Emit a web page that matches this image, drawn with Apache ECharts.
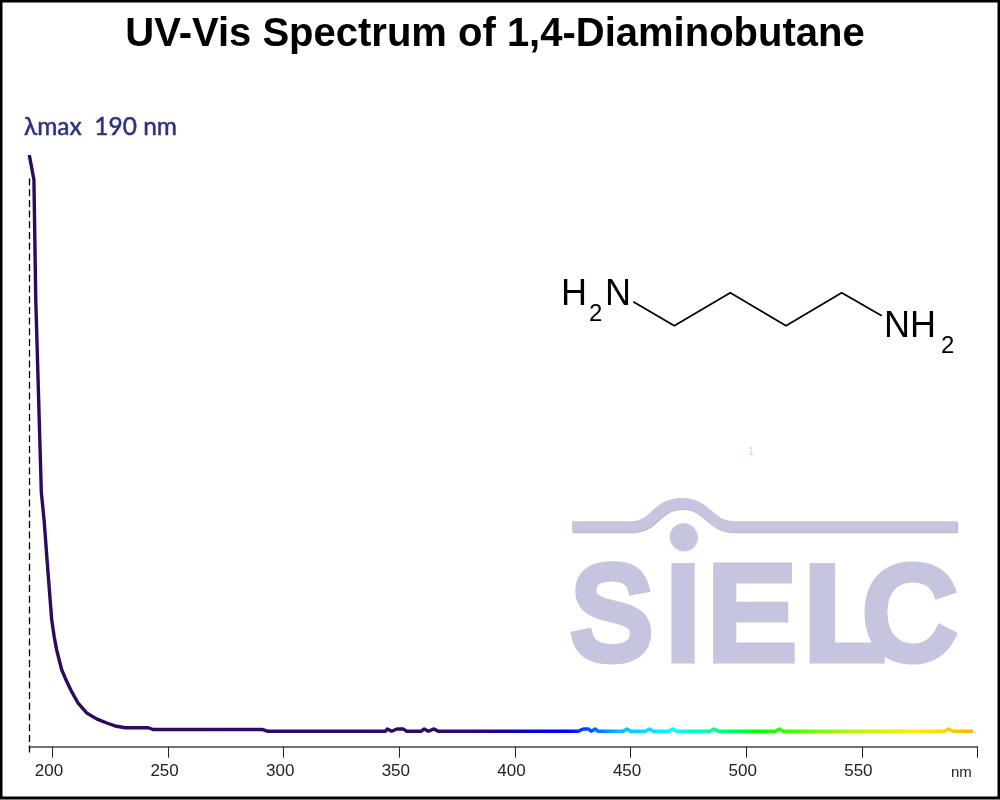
<!DOCTYPE html>
<html>
<head>
<meta charset="utf-8">
<title>UV-Vis Spectrum of 1,4-Diaminobutane</title>
<style>
  html, body { margin: 0; padding: 0; background: #fff; }
  #chart { width: 1000px; height: 800px; }
</style>
</head>
<body>
<div id="chart"></div>
<script src="https://cdn.jsdelivr.net/npm/echarts@6/dist/echarts.min.js"></script>
<script>
// values, absorbance normalised to the 190 nm peak
const wavelengths = [190, 192, 192.8, 195.2, 196.4, 198, 199.7, 200.8, 201.8, 204, 206.2, 208.3, 211.2, 214.8, 219.1, 223.5, 227.1, 231.4, 241.4, 243.5, 291, 293.2,
  344, 344.8, 346.7, 349, 351.6, 353.2, 359.5, 360.7, 362.6, 365, 366.8,
  427.3, 429.6, 431.8, 433, 434.7, 436, 446.8, 448.4, 450, 456.3, 458.2, 459.8, 466.5, 468.3, 470,
  484.3, 486.1, 488, 512.5, 514.3, 516, 585.7, 587.5, 589.5, 598];
const absorbance = [1, 0.958, 0.755, 0.43, 0.383, 0.299, 0.214, 0.185, 0.164, 0.13, 0.11, 0.093, 0.073, 0.057, 0.047, 0.04, 0.035, 0.032, 0.032, 0.029, 0.029, 0.026,
  0.026, 0.03, 0.026, 0.03, 0.03, 0.026, 0.026, 0.03, 0.026, 0.03, 0.026,
  0.026, 0.03, 0.03, 0.026, 0.03, 0.026, 0.026, 0.03, 0.026, 0.026, 0.03, 0.026, 0.026, 0.03, 0.026,
  0.026, 0.03, 0.026, 0.026, 0.03, 0.026, 0.026, 0.03, 0.026, 0.026];
const tickValues = [200, 250, 300, 350, 400, 450, 500, 550, 600];
const labelValues = [200, 250, 300, 350, 400, 450, 500, 550];
const lambdaMax = 190;

// spectrum colours, nm -> colour
const colorNm = [190, 380, 393, 408, 422, 445, 468, 486, 504, 540, 574, 598];
const colorHex = ['#2c0a5c', '#2c0a6c', '#20009a', '#0000e0', '#0000ff', '#00c0ff', '#00ffff', '#00ff90', '#00ff00', '#a0ff00', '#ffee00', '#ffb000'];

const logoColor = '#c5c5e0';
const logoShade = '#b9b9c6';

function logoLetter(text, x, scaleX) {
  return {
    type: 'text', x: x, y: 687, scaleX: scaleX || 1, z: 1,
    style: {
      text: text, fill: logoColor, stroke: logoColor, lineWidth: 11,
      font: '130px "Liberation Sans"', textAlign: 'left', textVerticalAlign: 'bottom',
      shadowBlur: 2, shadowOffsetX: 1, shadowOffsetY: 1, shadowColor: 'rgba(90,90,90,0.4)'
    }
  };
}

function chemText(text, x, baseline, size) {
  return {
    type: 'text', x: x, y: baseline, z: 5,
    style: { text: text, fill: '#000', font: size + 'px "Liberation Sans"', textAlign: 'left', textVerticalAlign: 'bottom' }
  };
}

// swoosh of the logo, each part with a shade copy underneath
const swooshParts = [
  { type: 'line', shape: { x1: 572, y1: 526.7, x2: 632, y2: 526.7 } },
  { type: 'bezierCurve', shape: { x1: 632, y1: 526.7, cpx1: 655, cpy1: 526.7, cpx2: 655, cpy2: 503.5, x2: 682, y2: 503.5 } },
  { type: 'bezierCurve', shape: { x1: 682, y1: 503.5, cpx1: 708, cpy1: 503.5, cpx2: 708, cpy2: 526.7, x2: 735, y2: 526.7 } },
  { type: 'line', shape: { x1: 735, y1: 526.7, x2: 957, y2: 526.7 } }
];
const swoosh = swooshParts.map(p => Object.assign({ x: 1, y: 1, z: 0, style: { fill: 'none', stroke: logoShade, lineWidth: 11 } }, p))
  .concat(swooshParts.map(p => Object.assign({ z: 1, style: { fill: 'none', stroke: logoColor, lineWidth: 11 } }, p)));

const chart = echarts.init(document.getElementById('chart'), null, { renderer: 'canvas' });

const span = wavelengths[wavelengths.length - 1] - wavelengths[0];
const stops = colorNm.map((nm, i) => ({ offset: (nm - wavelengths[0]) / span, color: colorHex[i] }));

chart.setOption({
  backgroundColor: '#fff',
  animation: false,
  title: [
    {
      text: 'UV-Vis Spectrum of 1,4-Diaminobutane', left: 490, top: 10, textAlign: 'center',
      textStyle: { fontFamily: 'Liberation Sans', fontWeight: 'bold', fontSize: 40, color: '#000' }
    },
    {
      text: 'λmax  190 nm', left: 19, top: 110,
      textStyle: { fontFamily: 'Lato', fontWeight: 'normal', fontSize: 24.5, color: '#2e3180', textBorderColor: '#2e3180', textBorderWidth: 0.5 }
    },
    {
      text: 'nm', left: 946, top: 760,
      textStyle: { fontFamily: 'Liberation Sans', fontWeight: 'normal', fontSize: 15, color: '#222' }
    },
    {
      text: '1', left: 743, top: 441,
      textStyle: { fontFamily: 'Liberation Sans', fontWeight: 'normal', fontSize: 11, color: '#b8dcf5' }
    }
  ],
  grid: { left: 29.3, top: 155, width: 948.2, height: 597.6 },
  xAxis: {
    type: 'value', min: 190, max: 600,
    splitLine: { show: false },
    axisLine: { onZero: true, lineStyle: { color: '#444', width: 1.5 } },
    axisTick: { length: 11, customValues: tickValues, lineStyle: { color: '#222', width: 1 } },
    axisLabel: {
      customValues: labelValues, margin: 10, padding: [0, 7, 0, 0],
      fontFamily: 'Liberation Sans', fontSize: 17, color: '#222'
    }
  },
  yAxis: { type: 'value', min: -0.01, max: 1, show: false, splitLine: { show: false } },
  series: [{
    type: 'line',
    data: wavelengths.map((nm, i) => [nm, absorbance[i]]),
    showSymbol: false,
    clip: false,
    z: 3,
    lineStyle: { width: 3.4, join: 'round', color: new echarts.graphic.LinearGradient(0, 0, 1, 0, stops) },
    markLine: {
      silent: true, symbol: 'none', animation: false, label: { show: false }, z: 2,
      lineStyle: { color: '#000', type: [7, 3.7], width: 1.3 },
      data: [[{ coord: [lambdaMax, -0.01] }, { coord: [lambdaMax, 0.963] }]]
    }
  }],
  graphic: [
    // image frame
    { type: 'rect', shape: { x: 1, y: 1, width: 998, height: 797 }, style: { fill: 'none', stroke: '#000', lineWidth: 3 }, z: 10 },
    // structure of the molecule
    {
      type: 'polyline', z: 5,
      shape: { points: [[633.3, 301.7], [674.3, 325.7], [730.3, 292.7], [786, 325.7], [841.7, 292.7], [881.7, 315.7]] },
      style: { fill: 'none', stroke: '#000', lineWidth: 1.8 }
    },
    chemText('H', 561, 313, 36), chemText('2', 589, 326, 24), chemText('N', 605, 313, 36),
    chemText('NH', 884, 345, 36), chemText('2', 941, 358, 24)
  ].concat(swoosh, [
    // rest of the SIELC logo
    { type: 'circle', z: 1, shape: { cx: 683.3, cy: 536.7, r: 13.5 }, style: { fill: logoColor, shadowBlur: 2, shadowOffsetX: 1, shadowOffsetY: 1, shadowColor: 'rgba(90,90,90,0.4)' } },
    logoLetter('S', 571, 0.93),
    logoLetter('I', 665),
    logoLetter('E', 708),
    logoLetter('L', 804, 1.1),
    logoLetter('C', 863.5, 0.98)
  ])
});
</script>
</body>
</html>
